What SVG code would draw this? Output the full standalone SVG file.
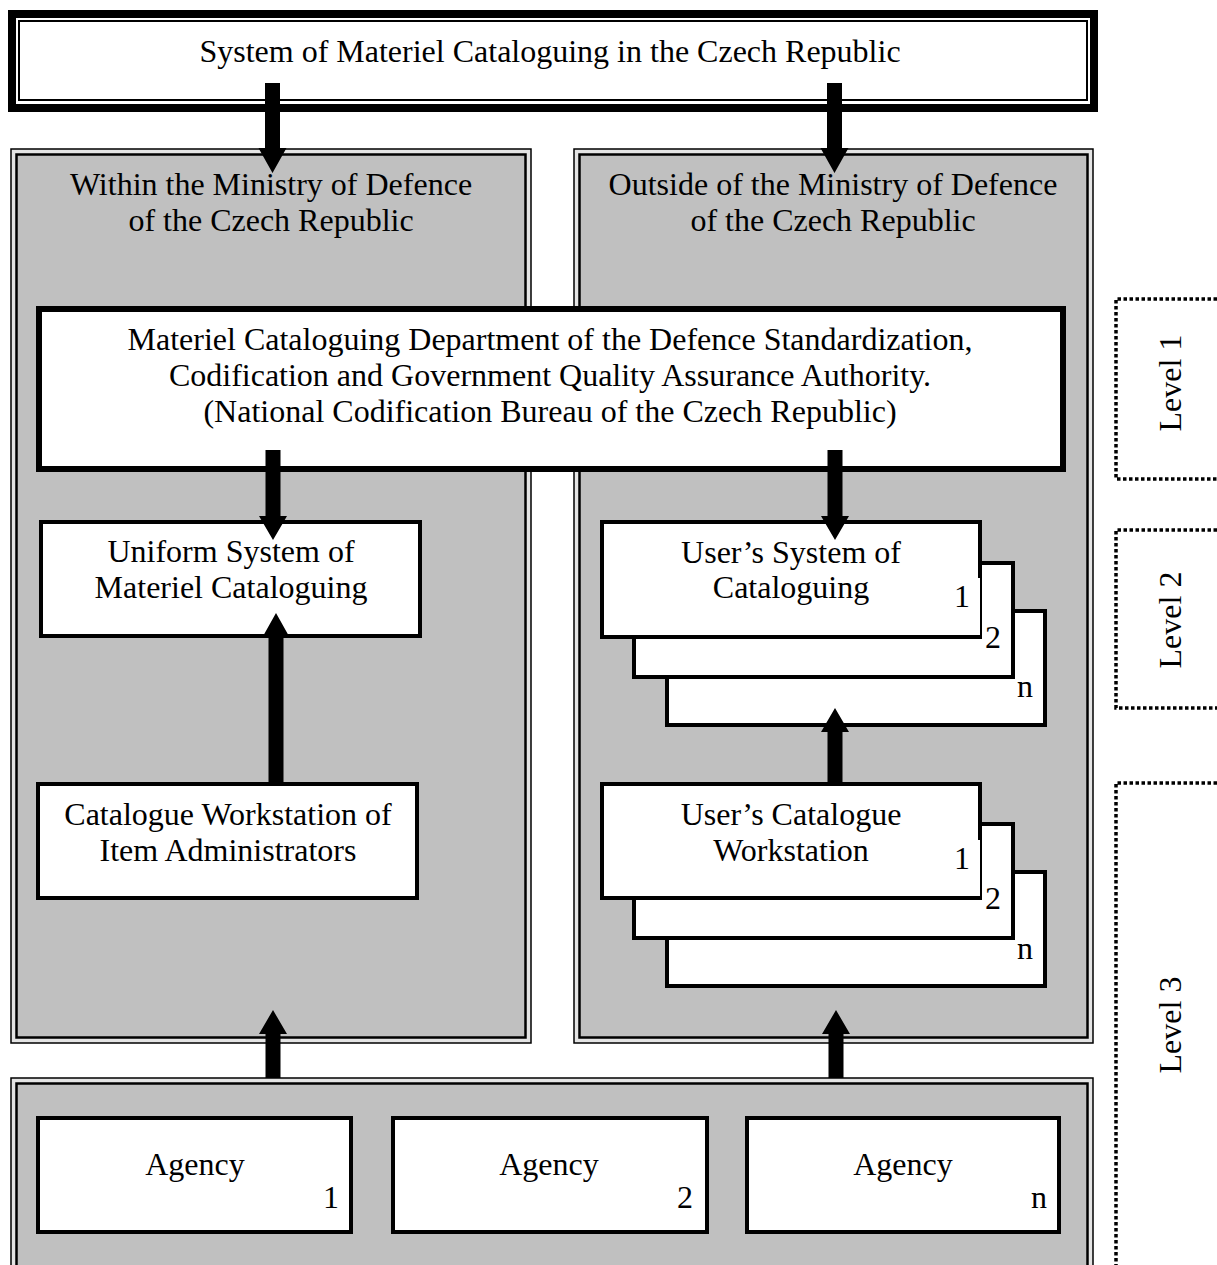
<svg xmlns="http://www.w3.org/2000/svg" width="1217" height="1265" viewBox="0 0 1217 1265">
<style>
text{font-family:"Liberation Serif","Times New Roman",serif;font-size:32px;fill:#000;text-anchor:middle}
.box{fill:#fff;stroke:#000;stroke-width:4}
.pout{fill:#e4e4e4;stroke:#000;stroke-width:1.5}
.pin{fill:#c0c0c0;stroke:#000;stroke-width:2.5}
.lvl{fill:none;stroke:#000;stroke-width:3.5;stroke-dasharray:3.5 2.5}
.arr{fill:#000}
.lb{fill:#fff}
</style>
<rect width="1217" height="1265" fill="#fff"/>
<g id="panel-left">
<rect class="pout" x="11" y="149" width="520" height="894"/>
<rect class="pin" x="16.5" y="154.5" width="509" height="883"/>
<text x="271" y="195">Within the Ministry of Defence</text>
<text x="271" y="231">of the Czech Republic</text>
</g>
<g id="panel-right">
<rect class="pout" x="574" y="149" width="519" height="894"/>
<rect class="pin" x="579.5" y="154.5" width="508" height="883"/>
<text x="833" y="195">Outside of the Ministry of Defence</text>
<text x="833" y="231">of the Czech Republic</text>
</g>
<g id="panel-bottom">
<rect class="pout" x="11" y="1078" width="1082" height="200"/>
<rect class="pin" x="16.5" y="1083.5" width="1071" height="200"/>
</g>
<g id="top">
<rect x="12" y="14" width="1082" height="94" fill="#fff" stroke="#000" stroke-width="8"/>
<rect x="19" y="21" width="1068" height="79" fill="none" stroke="#000" stroke-width="2"/>
<text x="550" y="62">System of Materiel Cataloguing in the Czech Republic</text>
</g>
<g id="ncb">
<rect x="39" y="309" width="1024" height="160" fill="#fff" stroke="#000" stroke-width="6"/>
<text x="550" y="350">Materiel Cataloguing Department of the Defence Standardization,</text>
<text x="550" y="386">Codification and Government Quality Assurance Authority.</text>
<text x="550" y="422">(National Codification Bureau of the Czech Republic)</text>
</g>
<g id="uniform">
<rect class="box" x="41" y="522" width="379" height="114"/>
<text x="231" y="562">Uniform System of</text>
<text x="231" y="598">Materiel Cataloguing</text>
</g>
<g id="catalogue-ws">
<rect class="box" x="38" y="784" width="379" height="114"/>
<text x="228" y="825">Catalogue Workstation of</text>
<text x="228" y="861">Item Administrators</text>
</g>
<g id="users-system">
<rect class="box" x="667" y="611" width="378" height="114"/>
<rect class="lb" x="1011" y="667" width="32" height="56"/>
<text x="1025" y="697">n</text>
<rect class="box" x="634" y="563" width="379" height="114"/>
<rect class="lb" x="979" y="619" width="32" height="56"/>
<text x="993" y="648">2</text>
<rect class="box" x="602" y="522" width="378" height="115"/>
<rect class="lb" x="946" y="578" width="34" height="57"/>
<text x="962" y="607">1</text>
<text x="791" y="563">User’s System of</text>
<text x="791" y="598">Cataloguing</text>
</g>
<g id="users-ws">
<rect class="box" x="667" y="872" width="378" height="114"/>
<rect class="lb" x="1011" y="928" width="32" height="56"/>
<text x="1025" y="959">n</text>
<rect class="box" x="634" y="824" width="379" height="114"/>
<rect class="lb" x="979" y="880" width="32" height="56"/>
<text x="993" y="909">2</text>
<rect class="box" x="602" y="784" width="378" height="114"/>
<rect class="lb" x="946" y="840" width="34" height="56"/>
<text x="962" y="869">1</text>
<text x="791" y="825">User’s Catalogue</text>
<text x="791" y="861">Workstation</text>
</g>
<g id="agency-1">
<rect class="box" x="38" y="1118" width="313" height="114"/>
<text x="195" y="1175">Agency</text>
<text x="331" y="1208">1</text>
</g>
<g id="agency-2">
<rect class="box" x="393" y="1118" width="314" height="114"/>
<text x="549" y="1175">Agency</text>
<text x="685" y="1208">2</text>
</g>
<g id="agency-n">
<rect class="box" x="747" y="1118" width="312" height="114"/>
<text x="903" y="1175">Agency</text>
<text x="1039" y="1208">n</text>
</g>
<g id="levels">
<path class="lvl" d="M1217,299 H1116 V479 H1217"/>
<path class="lvl" d="M1217,530 H1116 V708 H1217"/>
<path class="lvl" d="M1217,783 H1116 V1265"/>
<text transform="translate(1181,383) rotate(-90)">Level 1</text>
<text transform="translate(1181,620) rotate(-90)">Level 2</text>
<text transform="translate(1181,1025) rotate(-90)">Level 3</text>
</g>
<g id="connectors">
<polygon class="arr" points="265,83 280,83 280,148 286.5,148 272.5,173 258.5,148 265,148"/>
<polygon class="arr" points="827,83 842,83 842,148 848.5,148 834.5,173 820.5,148 827,148"/>
<polygon class="arr" points="265.5,450 280.5,450 280.5,516 287,516 273,540 259,516 265.5,516"/>
<polygon class="arr" points="827.5,450 842.5,450 842.5,516 849,516 835,540 821,516 827.5,516"/>
<polygon class="arr" points="268.5,785 283.5,785 283.5,638 290,638 276,613 262,638 268.5,638"/>
<polygon class="arr" points="827.5,785 842.5,785 842.5,732 849,732 835,708 821,732 827.5,732"/>
<polygon class="arr" points="265.5,1078 280.5,1078 280.5,1034 287,1034 273,1010 259,1034 265.5,1034"/>
<polygon class="arr" points="828.5,1078 843.5,1078 843.5,1034 850,1034 836,1010 822,1034 828.5,1034"/>
</g>
</svg>
